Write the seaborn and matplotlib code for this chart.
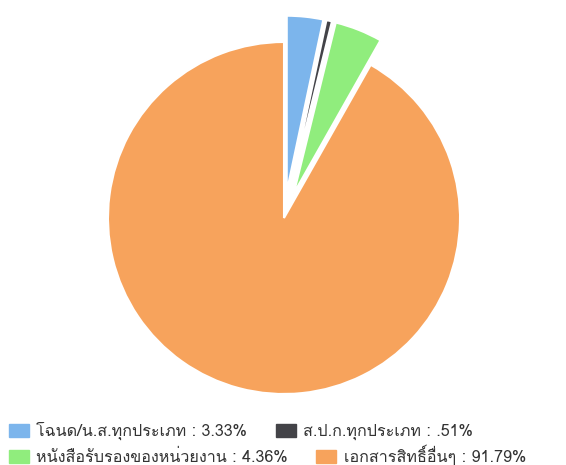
import matplotlib
matplotlib.use("Agg")
import matplotlib.pyplot as plt
from matplotlib import font_manager
from matplotlib.patches import Patch
import seaborn as sns

labels = ["โฉนด/น.ส.ทุกประเภท", "ส.ป.ก.ทุกประเภท", "หนังสือรับรองของหน่วยงาน", "เอกสารสิทธิ์อื่นๆ"]
pct_text = ["3.33%", ".51%", "4.36%", "91.79%"]
values = [3.33, 0.51, 4.36, 91.79]
colors = ["#7cb5ec", "#434348", "#90ed7d", "#f7a35c"]
explode = [0.15, 0.15, 0.15, 0]

sns.set_theme(style="white")

# look for any installed font that can draw Thai
thai = [f.name for f in font_manager.fontManager.ttflist
        if any(k in f.name for k in ("Thai", "Tlwg", "Loma", "Garuda", "Sarabun", "Kinnari", "Norasi"))]
plt.rcParams["font.family"] = thai[:1] + ["DejaVu Sans"]

fig = plt.figure(figsize=(5.66, 4.65), dpi=100)
ax = fig.add_axes([72.8 / 566, 35.8 / 465, 422.4 / 566, 422.4 / 465])
ax.pie(values, colors=colors, explode=explode, startangle=90, counterclock=False,
       wedgeprops=dict(edgecolor="white", linewidth=1.5))
ax.set_xlim(-1.2, 1.2)
ax.set_ylim(-1.2, 1.2)
ax.set_aspect("equal")
ax.axis("off")

entries = [f"{l} : {p}" for l, p in zip(labels, pct_text)]
rows = [(0, 1, 0.073), (2, 3, 0.019)]
for i, j, y in rows:
    handles = [Patch(color=colors[i], label=entries[i]), Patch(color=colors[j], label=entries[j])]
    leg = fig.legend(handles=handles, loc="center left", bbox_to_anchor=(0.016, y), ncol=2,
                     frameon=False, fontsize=11.6, handlelength=1.25, handleheight=0.85,
                     handletextpad=0.45, columnspacing=1.75, borderpad=0, borderaxespad=0)
    for t in leg.get_texts():
        t.set_color("#333333")

fig.savefig("out.png", dpi=100)
